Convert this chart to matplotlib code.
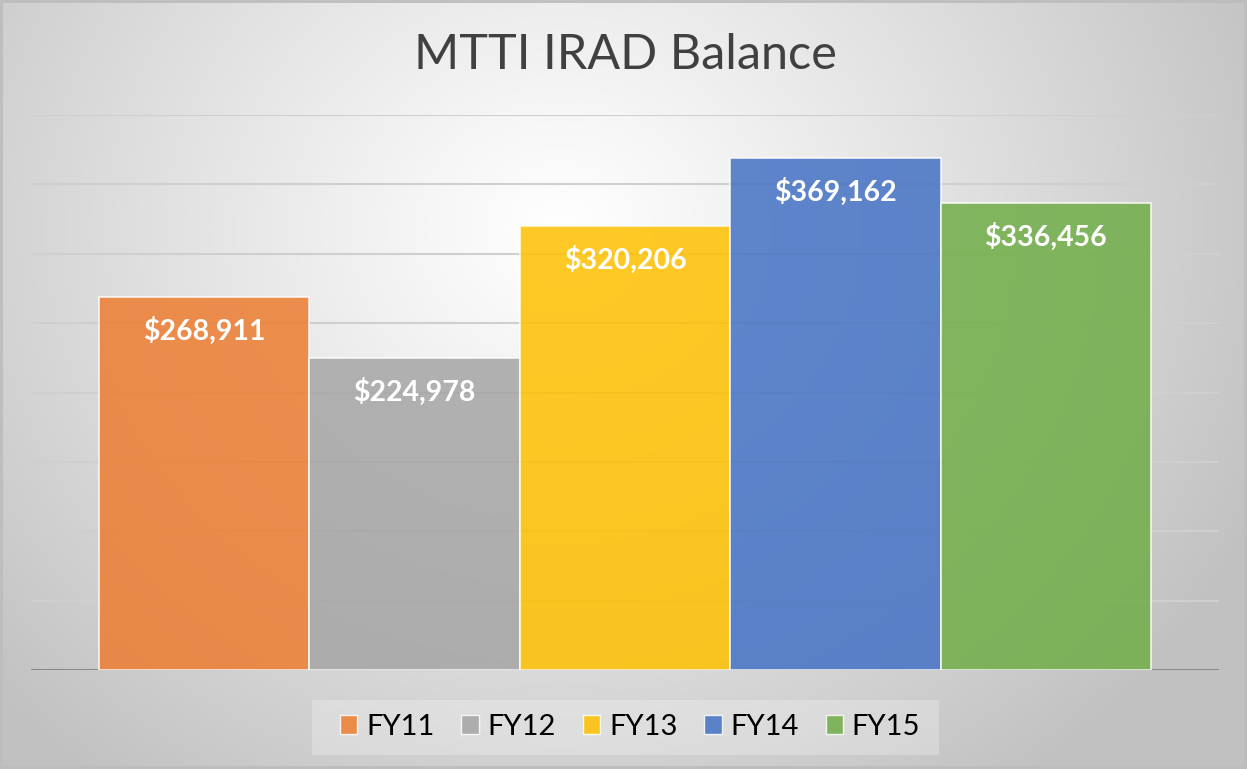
import matplotlib.pyplot as plt
import numpy as np
from matplotlib.patches import Rectangle

years = ['FY11', 'FY12', 'FY13', 'FY14', 'FY15']
balances = [268911, 224978, 320206, 369162, 336456]
colors = ['#ED7D31', '#A5A5A5', '#FFC000', '#4472C4', '#70AD47']
title = 'MTTI IRAD Balance'

W, H = 1247, 769
fig = plt.figure(figsize=(W / 100, H / 100), dpi=100)

# radial gradient background
bg = fig.add_axes([0, 0, 1, 1])
yy, xx = np.mgrid[0:H, 0:W]
r = np.sqrt(((xx - 560) / 1.0) ** 2 + ((yy - 230) / 0.9) ** 2)
t = np.clip(r / 760, 0, 1)
shade = 1.0 - 0.24 * t ** 1.1
bg.imshow(np.dstack([shade] * 3), extent=[0, W, H, 0], aspect='auto')
bg.set_xlim(0, W)
bg.set_ylim(H, 0)
bg.axis('off')
bg.add_patch(Rectangle((1, 1), W - 3, H - 3, fill=False, edgecolor='#bdbdbd', lw=2))
# legend backing
bg.add_patch(Rectangle((312, 700), 627, 55, facecolor='white', alpha=0.25, edgecolor='none'))

ax = fig.add_axes([31 / W, 1 - 670 / H, (1219 - 31) / W, (670 - 115) / H])
ax.patch.set_alpha(0)
ax.set_ylim(0, 400000)
ax.set_xlim(-0.5 - 0.323, 4.5 + 0.323)
ax.set_yticks(np.arange(50000, 400001, 50000))
ax.yaxis.grid(True, color='#cfcfcf', lw=1.5)
ax.set_axisbelow(True)
for s in ax.spines.values():
    s.set_visible(False)
ax.tick_params(left=False, bottom=False, labelleft=False, labelbottom=False)
ax.axhline(0, color='#8a8a8a', lw=1.5, zorder=1)

x = np.arange(len(years))
bars = ax.bar(x, balances, width=1.0, color=colors, alpha=0.85,
              edgecolor=(1, 1, 1, 0.5), lw=1.2, label=years, zorder=2)
for xi, v in zip(x, balances):
    ax.annotate(f'${v:,}', (xi, v), xytext=(0, -34), textcoords='offset pixels',
                ha='center', va='center', color='white', fontsize=20.5,
                fontweight='bold', family='Lato', zorder=3)

fig.text(625 / W, 1 - 55 / H, title, ha='center', va='center', fontsize=35,
         color='#404040', family='Lato')

handles = [Rectangle((0, 0), 1, 1, facecolor=c, alpha=0.85, edgecolor=(1, 1, 1, 0.6))
           for c in colors]
fig.legend(handles, years, loc='center', bbox_to_anchor=(630 / W, 1 - 727 / H),
           ncol=5, frameon=False, handlelength=0.6, handleheight=0.6,
           handletextpad=0.3, columnspacing=0.92, prop={'family': 'Lato', 'size': 21})

fig.savefig('out.png', dpi=100)
